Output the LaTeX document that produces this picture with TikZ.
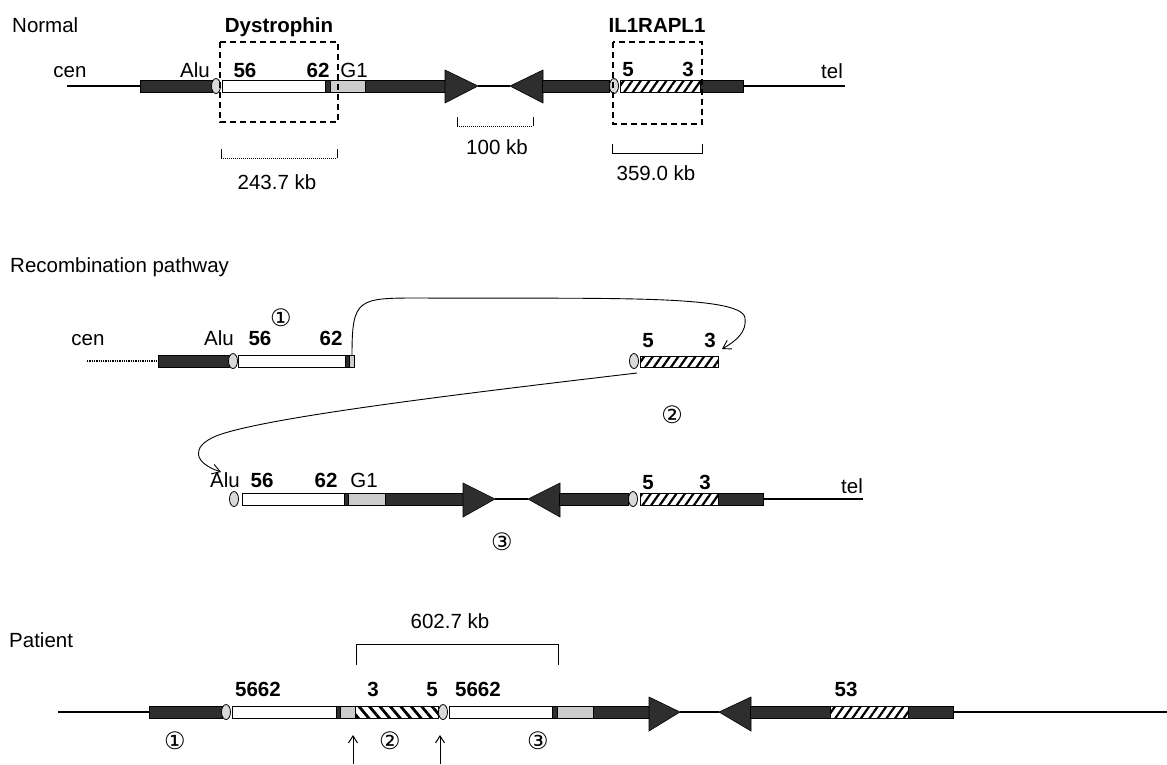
\documentclass[tikz,border=0pt]{standalone}
\usepackage{fontspec}
\setmainfont{Liberation Sans}
\newfontfamily\circfont{DejaVu Sans}
\usetikzlibrary{arrows.meta,patterns.meta}

\tikzset{
  chrline/.style={line width=1.3pt},
  darkbar/.style={draw=black,fill=black!82,line width=.6pt},
  exon/.style={draw=black,fill=white,line width=1pt},
  gbox/.style={draw=black,fill=gray!40,line width=.8pt},
  hatchf/.style={draw=black,line width=1pt,preaction={fill=white},
    pattern={Lines[angle=55,distance=7pt,line width=2.2pt]}},
  hatchb/.style={draw=black,line width=1pt,preaction={fill=white},
    pattern={Lines[angle=-50,distance=8pt,line width=2.8pt]}},
  alu/.style={draw=black,fill=gray!30,line width=.8pt},
  repeattri/.style={draw=black,fill=black!82,line width=.6pt},
  dashbox/.style={line width=1.2pt,dash pattern=on 6pt off 4pt},
  brk/.style={line width=1pt},
  lbl/.style={anchor=base,inner sep=0pt,font=\fontsize{20.5}{24}\selectfont},
  blbl/.style={anchor=base,inner sep=0pt,font=\fontsize{20.5}{24}\selectfont\bfseries},
  circ/.style={inner sep=0pt,font=\fontsize{24}{28}\selectfont\circfont},
  recomb/.style={line width=.9pt,-{Straight Barb[length=8pt,width=10pt]}},
}

\begin{document}
\begin{tikzpicture}[x=1pt,y=-1pt]
  \useasboundingbox (0,0) rectangle (1167,764);

  % Normal
  \node[lbl,anchor=base west] (normal) at (12,32) {Normal};
  \node[blbl] (dmd) at (279,32) {Dystrophin};
  \node[blbl] (il1) at (657,32) {IL1RAPL1};
  \draw[chrline] (67,86) -- (140,86);
  \draw[darkbar] (140,80) rectangle (212,92);
  \draw[exon] (222,80) rectangle (325,92);
  \draw[darkbar] (325,80) rectangle (330,92);
  \draw[gbox] (330,80) rectangle (365,92);
  \draw[darkbar] (365,80) rectangle (446,92);
  \draw[repeattri] (445,70) -- (478,86) -- (445,103) -- cycle;
  \draw[chrline] (478,86) -- (510,86);
  \draw[repeattri] (543,70) -- (510,86) -- (543,103) -- cycle;
  \draw[darkbar] (542,80) rectangle (609,92);
  \draw[hatchf] (620,80) rectangle (700,92);
  \draw[darkbar] (700,80) rectangle (743,92);
  \draw[chrline] (743,86) -- (845,86);
  \draw[alu] (216,86) ellipse (4.5 and 7.5);
  \draw[alu] (614,86) ellipse (4.5 and 7.5);
  \draw[dashbox] (220,42) rectangle (338,122);
  \draw[dashbox] (613,42) rectangle (702,124);
  \node[lbl] (cen1) at (70,77) {cen};
  \node[lbl] (alu1) at (195,77) {Alu};
  \node[blbl] (e56a) at (245,77) {56};
  \node[blbl] (e62a) at (318,77) {62};
  \node[lbl] (g1a) at (354,77) {G1};
  \node[blbl] (e5a) at (628,76) {5};
  \node[blbl] (e3a) at (688,76) {3};
  \node[lbl] (tel1) at (832,78) {tel};
  \draw[brk] (221,149) -- (221,158) (337,149) -- (337,158);
  \draw[brk,densely dotted] (221,158) -- (337,158);
  \node[lbl] (kb243) at (277,189) {243.7 kb};
  \draw[brk] (457,117) -- (457,126) (533,117) -- (533,126);
  \draw[brk,densely dotted] (457,126) -- (533,126);
  \node[lbl] (kb100) at (497,154) {100 kb};
  \draw[brk] (612,144) -- (612,153) -- (702,153) -- (702,144);
  \node[lbl] (kb359) at (656,180) {359.0 kb};

  % Recombination pathway
  \node[lbl,anchor=base west] (recpath) at (10,272) {Recombination pathway};
  \draw[chrline,densely dotted] (87,361) -- (158,361);
  \draw[darkbar] (158,355) rectangle (229,367);
  \draw[exon] (238,355) rectangle (345,367);
  \draw[darkbar] (345,355) rectangle (349,367);
  \draw[gbox] (349,355) rectangle (354,367);
  \draw[alu] (233,361) ellipse (4.5 and 7.5);
  \draw[hatchf] (640,356) rectangle (718,367);
  \draw[alu] (634,361) ellipse (4.5 and 7.5);
  \node[lbl] (cen2) at (88,345) {cen};
  \node[lbl] (alu2) at (219,345) {Alu};
  \node[blbl] (e56b) at (260,345) {56};
  \node[blbl] (e62b) at (331,345) {62};
  \node[circ] (one) at (281,318) {①};
  \node[blbl] (e5b) at (648,347) {5};
  \node[blbl] (e3b) at (710,347) {3};
  \node[circ] (two) at (672,415) {②};
  \coordinate (cut62) at (352,355);
  \coordinate (in3) at (722,349);
  \coordinate (cut5) at (637,373);
  \coordinate (inalu) at (221,472);
  \draw[recomb] (cut62) .. controls (352,298) and (358,298) .. (420,298)
    .. controls (600,299) and (742,294) .. (745,318)
    .. controls (747,332) and (736,341) .. (in3);
  \draw[recomb] (cut5) .. controls (450,395) and (262,418) .. (216,436)
    .. controls (190,447) and (194,463) .. (inalu);

  \draw[exon] (242,493) rectangle (344,505);
  \draw[darkbar] (344,493) rectangle (348,505);
  \draw[gbox] (348,493) rectangle (385,505);
  \draw[darkbar] (385,493) rectangle (464,505);
  \draw[repeattri] (463,483) -- (495,499) -- (463,517) -- cycle;
  \draw[chrline] (495,499) -- (528,499);
  \draw[repeattri] (560,483) -- (528,499) -- (560,517) -- cycle;
  \draw[darkbar] (559,493) rectangle (628,505);
  \draw[hatchf] (640,493) rectangle (718,505);
  \draw[darkbar] (718,493) rectangle (763,505);
  \draw[chrline] (763,499) -- (863,499);
  \draw[alu] (234,499) ellipse (4.5 and 7.5);
  \draw[alu] (633,499) ellipse (4.5 and 7.5);
  \node[lbl] (alu3) at (225,487) {Alu};
  \node[blbl] (e56c) at (262,487) {56};
  \node[blbl] (e62c) at (326,487) {62};
  \node[lbl] (g1c) at (364,487) {G1};
  \node[blbl] (e5c) at (648,489) {5};
  \node[blbl] (e3c) at (705,489) {3};
  \node[lbl] (tel3) at (852,493) {tel};
  \node[circ] (three) at (502,542) {③};

  % Patient
  \node[lbl,anchor=base west] (patient) at (9,647) {Patient};
  \draw[brk] (356,665) -- (356,644) -- (558,644) -- (558,665);
  \node[lbl] (kb602) at (450,628) {602.7 kb};
  \draw[chrline] (58,712) -- (149,712);
  \draw[darkbar] (149,706) rectangle (222,718);
  \draw[exon] (232,706) rectangle (336,718);
  \draw[darkbar] (336,706) rectangle (340,718);
  \draw[gbox] (340,706) rectangle (355,718);
  \draw[hatchb] (355,706) rectangle (438,718);
  \draw[exon] (449,706) rectangle (552,718);
  \draw[darkbar] (552,706) rectangle (557,718);
  \draw[gbox] (557,706) rectangle (593,718);
  \draw[darkbar] (593,706) rectangle (650,718);
  \draw[repeattri] (649,697) -- (680,712) -- (649,731) -- cycle;
  \draw[chrline] (680,712) -- (719,712);
  \draw[repeattri] (751,697) -- (719,712) -- (751,731) -- cycle;
  \draw[darkbar] (750,706) rectangle (830,718);
  \draw[hatchf] (830,706) rectangle (908,718);
  \draw[darkbar] (908,706) rectangle (953,718);
  \draw[chrline] (953,712) -- (1167,712);
  \draw[alu] (226,712) ellipse (4.5 and 7.5);
  \draw[alu] (443,712) ellipse (4.5 and 7.5);
  \node[blbl] (p5662a) at (258,696) {5662};
  \node[blbl] (p3) at (373,696) {3};
  \node[blbl] (p5) at (432,696) {5};
  \node[blbl] (p5662b) at (478,696) {5662};
  \node[blbl] (p53) at (846,696) {53};
  \node[circ] (pone) at (175,741) {①};
  \node[circ] (ptwo) at (390,741) {②};
  \node[circ] (pthree) at (538,741) {③};
  \coordinate (bp1) at (353,764);
  \coordinate (bp1tip) at (353,735);
  \coordinate (bp2) at (440,764);
  \coordinate (bp2tip) at (440,735);
  \draw[line width=1pt,-{Straight Barb[length=7pt,width=9pt]}] (bp1) -- (bp1tip);
  \draw[line width=1pt,-{Straight Barb[length=7pt,width=9pt]}] (bp2) -- (bp2tip);
\end{tikzpicture}
\end{document}
